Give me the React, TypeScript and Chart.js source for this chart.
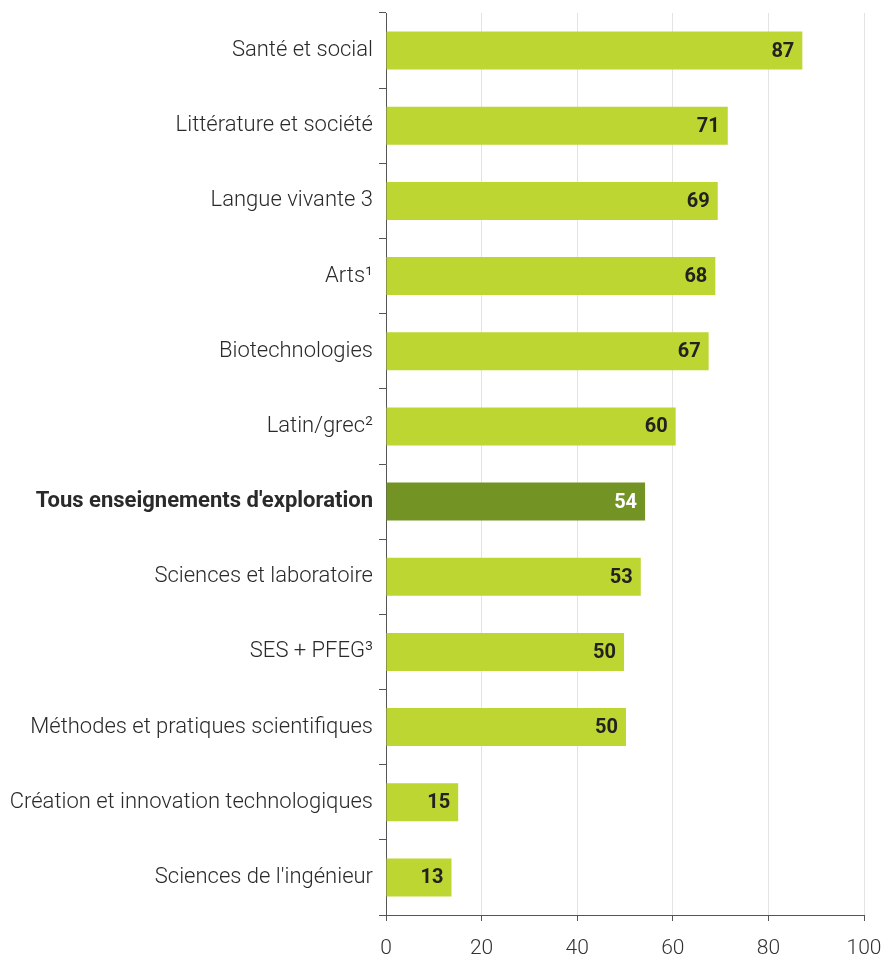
import React, { useEffect, useRef } from "react";
import { Chart, registerables } from "chart.js";

Chart.register(...registerables);

const categories = [
  "Santé et social",
  "Littérature et société",
  "Langue vivante 3",
  "Arts¹",
  "Biotechnologies",
  "Latin/grec²",
  "Tous enseignements d'exploration",
  "Sciences et laboratoire",
  "SES + PFEG³",
  "Méthodes et pratiques scientifiques",
  "Création et innovation technologiques",
  "Sciences de l'ingénieur",
];

const values = [87.1, 71.5, 69.4, 68.9, 67.5, 60.6, 54.2, 53.3, 49.8, 50.2, 15.1, 13.7];
const valueLabels = ["87", "71", "69", "68", "67", "60", "54", "53", "50", "50", "15", "13"];
const highlightIndex = 6;
const xTicks = [0, 20, 40, 60, 80, 100];

const LIME = "#bdd631";
const DARK = "#739425";
const FONT = "Roboto";

const valueLabelPlugin = {
  id: "valueLabels",
  afterDatasetsDraw(chart: any) {
    const ctx = chart.ctx;
    const meta = chart.getDatasetMeta(0);
    ctx.save();
    ctx.font = `bold 20px ${FONT}`;
    ctx.textAlign = "right";
    ctx.textBaseline = "middle";
    meta.data.forEach((bar: any, i: number) => {
      ctx.fillStyle = i === highlightIndex ? "#ffffff" : "#222222";
      ctx.fillText(valueLabels[i], bar.x - 8, bar.y + 1);
    });
    ctx.restore();
  },
};

export default function App() {
  const ref = useRef<HTMLCanvasElement | null>(null);
  useEffect(() => {
    document.body.style.margin = "0";
    if (!ref.current) return;
    const chart = new Chart(ref.current, {
      type: "bar",
      data: {
        labels: categories,
        datasets: [
          {
            data: values,
            backgroundColor: categories.map((_, i) => (i === highlightIndex ? DARK : LIME)),
            borderWidth: 0,
            barPercentage: 0.505,
            categoryPercentage: 1,
          },
        ],
      },
      options: {
        indexAxis: "y",
        animation: false,
        responsive: false,
        maintainAspectRatio: false,
        devicePixelRatio: 1,
        layout: { padding: { top: 13, right: 22, left: 0, bottom: 0 } },
        plugins: { legend: { display: false }, tooltip: { enabled: false } },
        scales: {
          x: {
            min: 0,
            max: 100,
            afterBuildTicks: (scale: any) => {
              scale.ticks = xTicks.map((v) => ({ value: v }));
            },
            afterFit: (scale: any) => {
              scale.height = 40;
              scale.paddingLeft = 0;
              scale.paddingRight = 0;
            },
            border: { display: true, color: "#555555", width: 1 },
            grid: {
              color: "#e3e3e3",
              lineWidth: 1,
              drawTicks: true,
              tickLength: 6,
              tickColor: "#555555",
            },
            ticks: {
              color: "#333333",
              font: { family: FONT, size: 21, weight: "300" },
              padding: 15,
            },
          },
          y: {
            afterFit: (scale: any) => {
              scale.width = 386;
              scale.paddingTop = 0;
              scale.paddingBottom = 0;
            },
            border: { display: true, color: "#555555", width: 1 },
            grid: {
              offset: true,
              drawOnChartArea: false,
              drawTicks: true,
              tickLength: 7,
              tickColor: "#555555",
            },
            ticks: {
              color: "#2a2a2a",
              padding: 6,
              font: (c: any) =>
                c.index === highlightIndex
                  ? { family: FONT, size: 22, weight: "bold" }
                  : { family: FONT, size: 22, weight: "300" },
            },
          },
        },
      },
      plugins: [valueLabelPlugin],
    });
    return () => chart.destroy();
  }, []);
  return <canvas ref={ref} width={886} height={955} style={{ display: "block" }} />;
}
